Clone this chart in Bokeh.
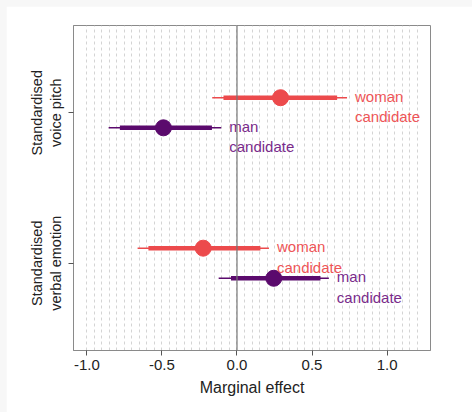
import numpy as np
from bokeh.plotting import figure
from bokeh.models import ColumnDataSource, FixedTicker, Span, Range1d
from bokeh.core.properties import value
from bokeh.embed import file_html
from bokeh.resources import INLINE

# ---- data ----
outcomes = ["voice pitch", "voice pitch", "verbal emotion", "verbal emotion"]
candidates = ["woman", "man", "woman", "man"]
labels = ["woman\ncandidate", "man\ncandidate", "woman\ncandidate", "man\ncandidate"]
estimate = [0.29, -0.49, -0.225, 0.245]
ci_inner_lo = [-0.09, -0.78, -0.59, -0.04]
ci_inner_hi = [0.667, -0.167, 0.156, 0.556]
ci_outer_lo = [-0.165, -0.855, -0.662, -0.122]
ci_outer_hi = [0.733, -0.105, 0.213, 0.612]
outcome_ticks = {2: "Standardised\nvoice pitch", 1: "Standardised\nverbal emotion"}
x_ticks = [-1.0, -0.5, 0.0, 0.5, 1.0]

line_colors = {"woman": "#ec4a4c", "man": "#5b0a6d"}
text_colors = {"woman": "#ee5557", "man": "#7a2b8b"}
outcome_pos = {"voice pitch": 2, "verbal emotion": 1}
dodge = {"woman": 0.1, "man": -0.1}

ypos = [outcome_pos[o] + dodge[c] for o, c in zip(outcomes, candidates)]
src = ColumnDataSource(dict(
    y=ypos, est=estimate, lo1=ci_inner_lo, hi1=ci_inner_hi,
    lo2=ci_outer_lo, hi2=ci_outer_hi, label=labels,
    col=[line_colors[c] for c in candidates],
    tcol=[text_colors[c] for c in candidates],
))

FONT = "Liberation Sans"

p = figure(width=466, height=406, output_backend="svg", toolbar_location=None,
           x_range=Range1d(-1.089, 1.289), y_range=Range1d(0.42, 2.58),
           min_border_left=67, min_border_top=19, min_border_right=42, min_border_bottom=62)
p.background_fill_color = "white"
p.border_fill_color = "white"
p.outline_line_color = "#8a8a8a"
p.outline_line_width = 1

# grid
p.ygrid.grid_line_color = None
p.xgrid.ticker = FixedTicker(ticks=list(np.round(np.arange(-1.0, 1.2001, 0.05), 2)))
p.xgrid.grid_line_color = "#d4d4d4"
p.xgrid.grid_line_dash = "3 3"
p.xgrid.grid_line_width = 1

p.add_layout(Span(location=0, dimension="height", line_color="#777777", line_width=1.2))

# intervals
p.segment(x0="lo2", x1="hi2", y0="y", y1="y", line_color="col", line_width=1.6, source=src)
p.segment(x0="lo1", x1="hi1", y0="y", y1="y", line_color="col", line_width=4.5, source=src)
p.scatter(x="est", y="y", size=16, fill_color="col", line_color="col", source=src)

# labels
p.text(x="hi2", y="y", text="label", text_color="tcol", x_offset=8, y_offset=-10,
       text_baseline="top", text_align="left", text_font=value(FONT),
       text_font_size="15px", text_line_height=1.2, source=src)

# axes
p.xaxis.ticker = FixedTicker(ticks=x_ticks)
p.xaxis.major_label_overrides = {t: f"{t:.1f}" for t in x_ticks}
p.xaxis.axis_label = "Marginal effect"
p.yaxis.ticker = FixedTicker(ticks=list(outcome_ticks.keys()))
p.yaxis.major_label_overrides = outcome_ticks
p.yaxis.major_label_orientation = "vertical"

for ax in (p.xaxis[0], p.yaxis[0]):
    ax.axis_line_color = "#8a8a8a"
    ax.major_tick_line_color = "#555555"
    ax.major_tick_out = 5
    ax.major_tick_in = 0
    ax.minor_tick_line_color = None
    ax.major_label_text_font = FONT
    ax.major_label_text_color = "#222222"
    ax.axis_label_text_font = FONT
    ax.axis_label_text_font_style = "normal"
    ax.axis_label_text_color = "#222222"
    ax.major_label_standoff = 4

p.xaxis.major_label_text_font_size = "15px"
p.xaxis.axis_label_text_font_size = "16px"
p.xaxis.axis_label_standoff = 6
p.yaxis.major_label_text_font_size = "14.5px"

html = file_html(p, INLINE)
html = html.replace(
    "</head>",
    "<style>html, body { background: #f7f7f7 !important; } "
    "body { padding: 6px 0 0 6px !important; margin: 0 !important; }</style></head>",
    1,
)
open("out.html", "w").write(html)
